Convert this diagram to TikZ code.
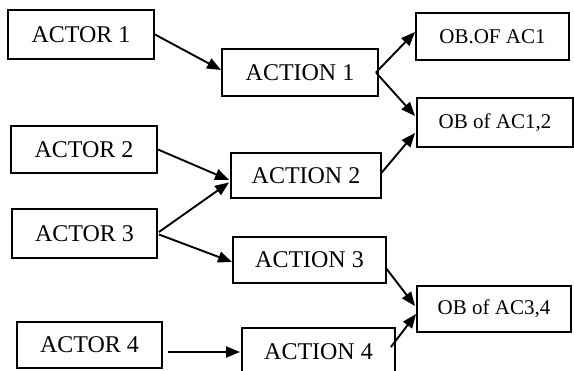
\documentclass[tikz,border=0pt]{standalone}
\usepackage{fontspec}
\setmainfont{Liberation Serif}
\usetikzlibrary{arrows.meta}
\begin{document}
\begin{tikzpicture}[x=1pt,y=-1pt,
  box/.style={draw, line width=1.9pt, rectangle, inner sep=0pt, font=\fontsize{24}{26}\selectfont},
  obbox/.style={draw, line width=1.9pt, rectangle, inner sep=0pt, font=\fontsize{21}{24}\selectfont},
  arr/.style={line width=1.9pt, -{Triangle[length=14pt,width=11pt]}}]
\useasboundingbox (0,0) rectangle (574,371);
\clip (0,0) rectangle (574,371);
\node[box, minimum width=146pt, minimum height=49pt] (actor1) at (81,34.5) {ACTOR 1};
\node[box, minimum width=156pt, minimum height=47pt] (action1) at (300,72.5) {ACTION 1};
\node[box, minimum width=146pt, minimum height=47pt] (actor2) at (84,149.5) {ACTOR 2};
\node[box, minimum width=150pt, minimum height=45pt] (action2) at (306,175.5) {ACTION 2};
\node[box, minimum width=145pt, minimum height=49pt] (actor3) at (84.5,233.5) {ACTOR 3};
\node[box, minimum width=153pt, minimum height=46pt] (action3) at (309.5,260) {ACTION 3};
\node[box, minimum width=145pt, minimum height=46pt] (actor4) at (89.5,345) {ACTOR 4};
\node[box, minimum width=153pt, minimum height=48pt] (action4) at (318.5,352) {ACTION 4};
\node[obbox, minimum width=153pt, minimum height=47pt] (ob1) at (492.5,36.5) {OB.OF AC1};
\node[obbox, minimum width=156pt, minimum height=49pt] (ob12) at (495,122.5) {OB of AC1,2};
\node[obbox, minimum width=154pt, minimum height=46pt] (ob34) at (494,309) {OB of AC3,4};

\draw[arr] (actor1.east) -- ([yshift=2.5pt]action1.west);
\draw[arr] ([xshift=-3pt]action1.east) -- ([yshift=4.5pt]ob1.west);
\draw[arr] ([xshift=-3pt]action1.east) -- ([yshift=6.5pt,xshift=-1pt]ob12.west);
\draw[arr] (actor2.east) -- ([yshift=-4.5pt,xshift=-1pt]action2.west);
\draw[arr] ([xshift=-1pt,yshift=2pt]action2.east) -- ([yshift=-10.5pt,xshift=-1pt]ob12.west);
\draw[arr] ([xshift=1pt,yshift=1.5pt]actor3.east) -- ([yshift=-7pt,xshift=-1pt]action2.west);
\draw[arr] ([xshift=1pt,yshift=-1pt]actor3.east) -- ([yshift=-2pt]action3.west);
\draw[arr] ([xshift=-1pt,yshift=-8pt]action3.east) -- ([yshift=3pt,xshift=-1pt]ob34.west);
\draw[arr] ([xshift=-5pt,yshift=5pt]action4.east) -- ([yshift=-5pt]ob34.west);
\draw[arr] ([xshift=5pt,yshift=-7pt]actor4.east) -- ([xshift=-1pt]action4.west);
\end{tikzpicture}
\end{document}
